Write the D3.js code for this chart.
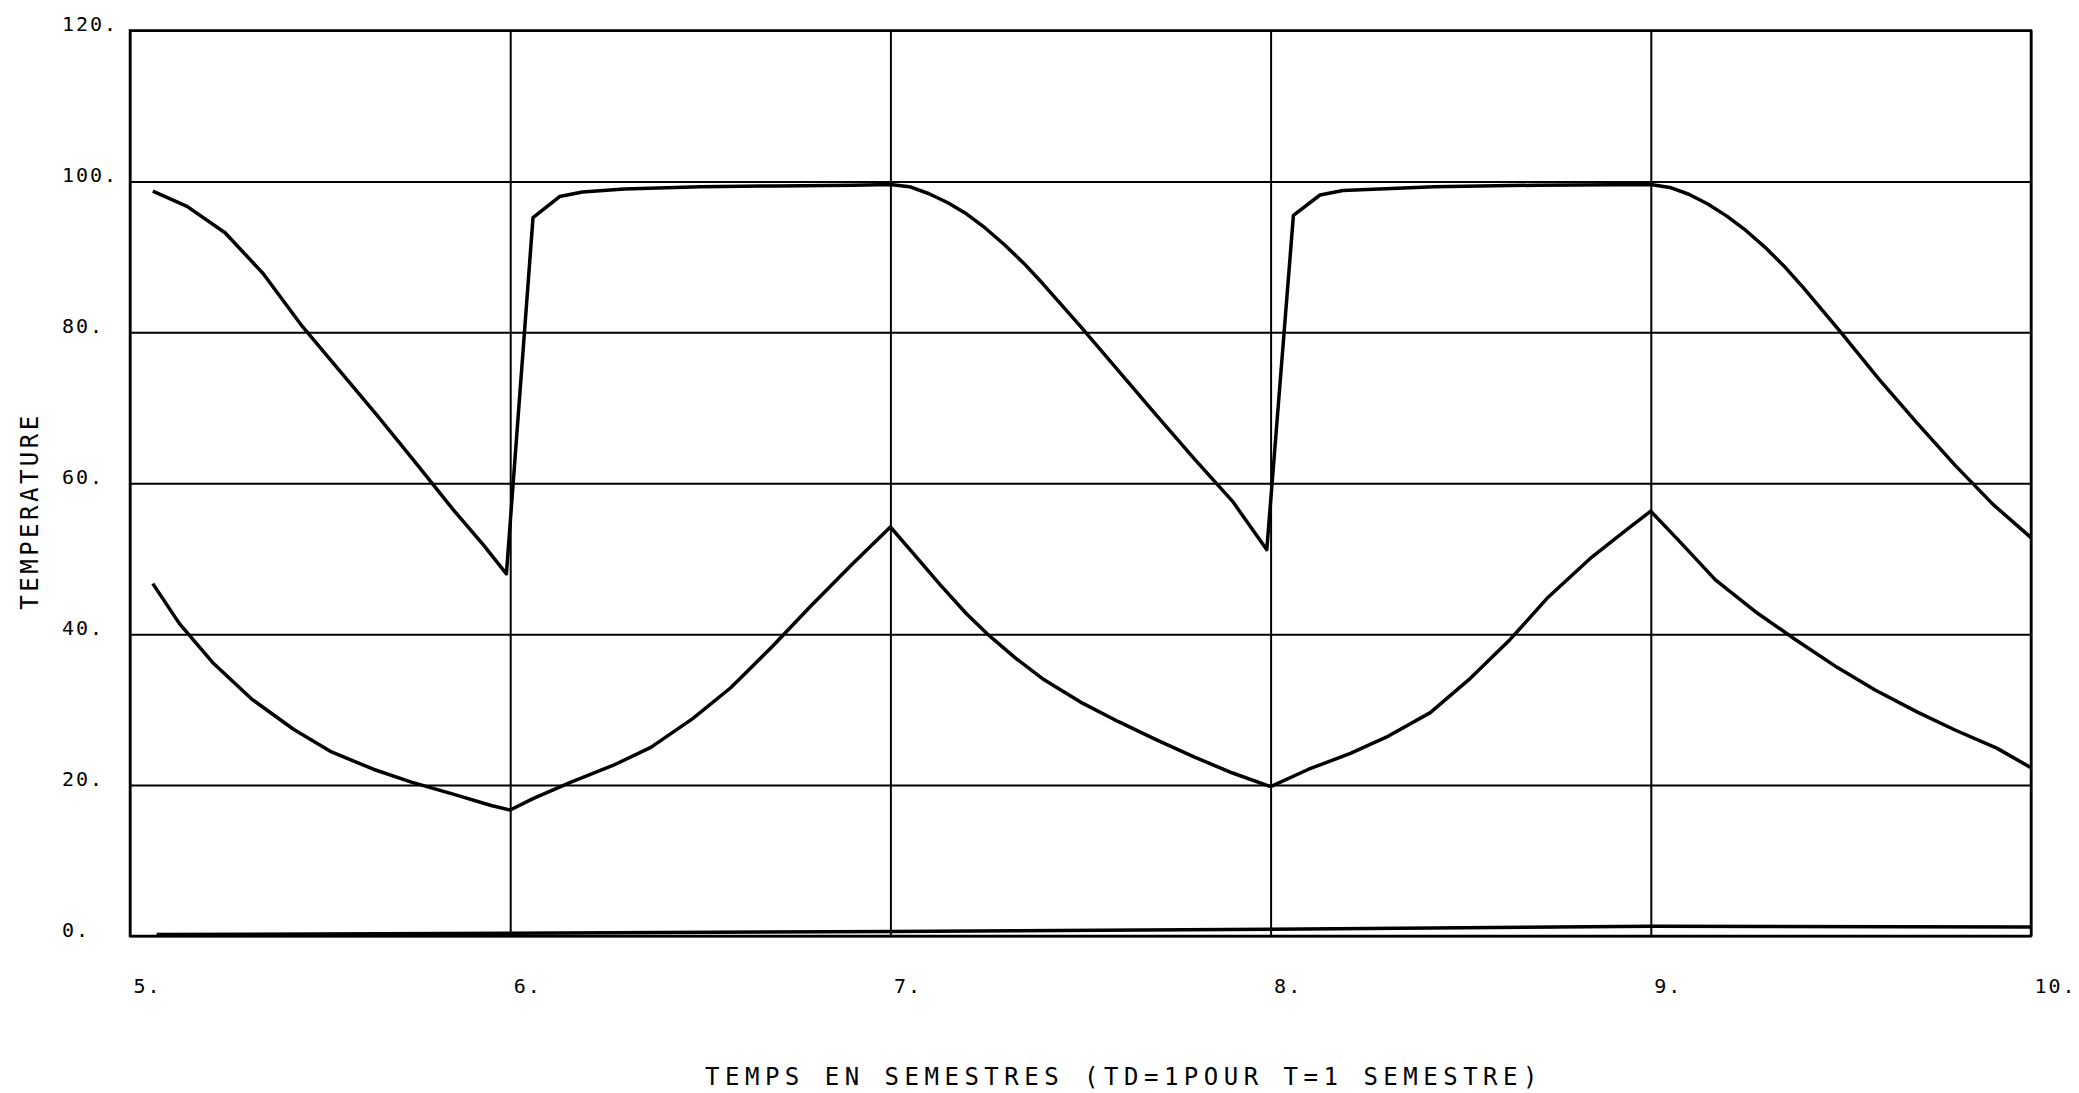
<!DOCTYPE html>
<html>
    <head>
        <script src="https://d3js.org/d3.v7.min.js"></script>
        <style>
            body { margin: 0; background-color: #ffffff; }
            text { font-family: "DejaVu Sans Mono", monospace; fill: #000; }
        </style>
    </head>
    <body>
        <div id="chart"></div>
        <script>
            // tick values
            const xTicks = [5, 6, 7, 8, 9, 10];
            const yTicks = [0, 20, 40, 60, 80, 100, 120];

            // upper curve
            const upperT = [5.06, 5.15, 5.25, 5.35, 5.45, 5.55, 5.65, 5.75, 5.85, 5.93, 5.99,
                6.06, 6.13, 6.19, 6.30, 6.50, 6.70, 6.90, 7.00,
                7.05, 7.10, 7.15, 7.20, 7.25, 7.30, 7.35, 7.40, 7.50, 7.60, 7.70, 7.80, 7.90, 7.99,
                8.06, 8.13, 8.19, 8.43, 8.70, 9.00,
                9.05, 9.10, 9.15, 9.20, 9.25, 9.30, 9.35, 9.40, 9.50, 9.60, 9.70, 9.80, 9.90, 10.0];
            const upperV = [98.7, 96.7, 93.2, 87.8, 81.0, 75.0, 69.0, 62.8, 56.5, 51.8, 48.0,
                95.2, 98.0, 98.6, 99.0, 99.3, 99.4, 99.5, 99.6,
                99.3, 98.4, 97.2, 95.7, 93.8, 91.6, 89.2, 86.5, 80.8, 74.9, 69.0, 63.2, 57.6, 51.2,
                95.5, 98.2, 98.8, 99.3, 99.5, 99.6,
                99.2, 98.3, 97.0, 95.4, 93.5, 91.3, 88.8, 86.0, 80.0, 73.8, 68.0, 62.4, 57.2, 52.8];

            // lower curve
            const lowerT = [5.06, 5.13, 5.22, 5.32, 5.43, 5.53, 5.64, 5.74, 5.85, 5.95, 6.00,
                6.06, 6.16, 6.27, 6.37, 6.48, 6.58, 6.69, 6.79, 6.90, 7.00,
                7.06, 7.13, 7.20, 7.26, 7.33, 7.40, 7.50, 7.60, 7.70, 7.80, 7.90, 8.00,
                8.10, 8.21, 8.31, 8.42, 8.52, 8.63, 8.73, 8.84, 8.94, 9.00,
                9.07, 9.17, 9.28, 9.38, 9.49, 9.59, 9.70, 9.80, 9.91, 10.0];
            const lowerV = [46.7, 41.4, 36.1, 31.4, 27.4, 24.4, 22.1, 20.4, 18.8, 17.3, 16.7,
                18.2, 20.4, 22.6, 25.0, 28.8, 32.9, 38.4, 43.7, 49.3, 54.2,
                50.7, 46.6, 42.7, 39.8, 36.8, 34.1, 31.0, 28.4, 26.0, 23.7, 21.6, 19.8,
                22.1, 24.2, 26.5, 29.6, 33.9, 39.3, 44.9, 50.0, 54.0, 56.3,
                52.6, 47.2, 42.8, 39.3, 35.6, 32.6, 29.7, 27.3, 24.9, 22.3];

            // curve lying near zero
            const baseT = [5.07, 6.0, 7.0, 8.0, 9.0, 10.0];
            const baseV = [0.2, 0.35, 0.6, 0.9, 1.3, 1.2];

            const W = 2079, H = 1093;
            const margin = { top: 30.5, right: 48, bottom: 157, left: 130 };
            const width = W - margin.left - margin.right;
            const height = H - margin.top - margin.bottom;

            const svg = d3.select("#chart").append("svg")
                .attr("width", W).attr("height", H);
            const g = svg.append("g")
                .attr("transform", `translate(${margin.left},${margin.top})`);

            const x = d3.scaleLinear().domain([5, 10]).range([0, width]);
            const y = d3.scaleLinear().domain([0, 120]).range([height, 0]);

            // horizontal grid + y labels
            const yAxis = g.append("g")
                .call(d3.axisLeft(y).tickValues(yTicks).tickSize(-width).tickFormat(d => d + "."));
            yAxis.select(".domain").remove();
            yAxis.selectAll("line").attr("stroke", "#000").attr("stroke-width", 2);
            yAxis.selectAll("text")
                .attr("x", -68).attr("dy", 0).attr("text-anchor", "start")
                .style("font-size", "20px").style("letter-spacing", "2px");

            // vertical grid + x labels
            const xAxis = g.append("g")
                .attr("transform", `translate(0,${height})`)
                .call(d3.axisBottom(x).tickValues(xTicks).tickSize(-height).tickFormat(d => d + "."));
            xAxis.select(".domain").remove();
            xAxis.selectAll("line").attr("stroke", "#000").attr("stroke-width", 2);
            xAxis.selectAll("text")
                .attr("y", 57).attr("x", 3).attr("dy", 0).attr("text-anchor", "start")
                .style("font-size", "20px").style("letter-spacing", "2px");

            // frame
            g.append("rect")
                .attr("x", 0).attr("y", 0).attr("width", width).attr("height", height)
                .attr("fill", "none").attr("stroke", "#000").attr("stroke-width", 2.5);

            const line = d3.line().x(d => x(d[0])).y(d => y(d[1]));
            const series = [
                d3.zip(upperT, upperV),
                d3.zip(lowerT, lowerV),
                d3.zip(baseT, baseV)
            ];
            g.selectAll(".curve").data(series).join("path")
                .attr("class", "curve")
                .attr("d", line)
                .attr("fill", "none")
                .attr("stroke", "#000")
                .attr("stroke-width", 3.5)
                .attr("stroke-linejoin", "round");

            // axis titles
            svg.append("text")
                .attr("x", 1124).attr("y", 1085)
                .attr("text-anchor", "middle")
                .style("font-size", "24px").style("letter-spacing", "5.5px")
                .text("TEMPS EN SEMESTRES (TD=1POUR T=1 SEMESTRE)");

            svg.append("text")
                .attr("transform", "translate(38,511) rotate(-90)")
                .attr("text-anchor", "middle")
                .style("font-size", "24px").style("letter-spacing", "3.5px")
                .text("TEMPERATURE");
        </script>
    </body>
</html>
